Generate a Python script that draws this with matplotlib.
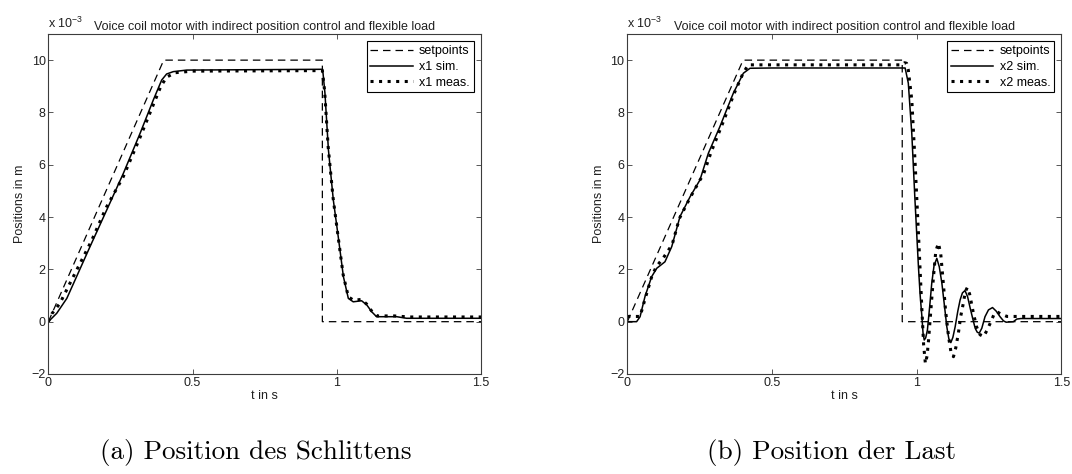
# Voice coil motor: setpoint vs. simulated vs. measured positions
# (a) slide position x1, (b) load position x2

import matplotlib.pyplot as plt

# ------------------------------------------------------------------
# DATA (positions in 1e-3 m, time in s)
# ------------------------------------------------------------------

# setpoint trajectory (same for both panels)
sp_t = [0, 0.4, 0.95, 0.95, 1.5]
sp_v = [0, 10, 10, 0, 0]

# (a) slide x1
x1_sim_t = [0, 0.029, 0.064, 0.0925, 0.1445, 0.2024, 0.26, 0.318, 0.364, 0.393,
            0.41, 0.433, 0.48, 0.951, 0.959, 0.971, 0.988, 1.005, 1.023, 1.04,
            1.057, 1.086, 1.104, 1.121, 1.138, 1.208, 1.242, 1.5]
x1_sim_v = [0, 0.32, 0.89, 1.59, 2.87, 4.27, 5.67, 7.2, 8.48, 9.24,
            9.47, 9.56, 9.62, 9.65, 8.73, 6.57, 4.65, 3.25, 1.72, 0.89,
            0.76, 0.80, 0.64, 0.38, 0.19, 0.19, 0.13, 0.13]

x1_meas_t = [0, 0.012, 0.04, 0.075, 0.11, 0.15, 0.2, 0.26, 0.318, 0.364, 0.39,
             0.41, 0.44, 0.5, 0.95, 0.958, 0.97, 0.987, 1.004, 1.022, 1.04,
             1.058, 1.085, 1.103, 1.12, 1.14, 1.2, 1.25, 1.5]
x1_meas_v = [0, 0.3, 0.7, 1.47, 2.23, 3.1, 4.35, 5.55, 7.05, 8.3, 9.0,
             9.35, 9.52, 9.58, 9.6, 8.8, 6.7, 4.75, 3.3, 1.8, 0.95,
             0.82, 0.85, 0.68, 0.42, 0.22, 0.22, 0.18, 0.18]

# (b) load x2
x2_sim_t = [0, 0.032, 0.044, 0.061, 0.084, 0.1015, 0.13, 0.1535, 0.182, 0.217,
            0.251, 0.28, 0.32, 0.366, 0.401, 0.424, 0.5, 0.96, 0.971, 0.983,
            0.994, 1.006, 1.012, 1.018, 1.022, 1.026, 1.031, 1.037, 1.045, 1.052,
            1.06, 1.0695, 1.078, 1.087, 1.096, 1.104, 1.111, 1.118, 1.125, 1.133,
            1.142, 1.15, 1.158, 1.167, 1.176, 1.185, 1.194, 1.202, 1.209, 1.216,
            1.225, 1.236, 1.248, 1.262, 1.275, 1.288, 1.3, 1.309, 1.334, 1.346,
            1.36, 1.5]
x2_sim_v = [0, 0, 0.19, 0.96, 1.72, 2.04, 2.29, 2.87, 4.02, 4.78,
            5.42, 6.44, 7.46, 8.73, 9.5, 9.69, 9.7, 9.7, 9.12, 7.2,
            4.65, 2.1, 1.0, 0.19, -0.45, -0.70, -0.62, -0.32, 0.6, 1.47,
            2.15, 2.42, 2.1, 1.47, 0.6, -0.19, -0.65, -0.80, -0.6, -0.19,
            0.4, 0.83, 1.1, 1.19, 0.95, 0.51, 0.1, -0.25, -0.4, -0.44,
            -0.25, 0.19, 0.45, 0.54, 0.4, 0.19, 0.03, -0.02, 0.0, 0.1,
            0.12, 0.12]

x2_meas_t = [0, 0.044, 0.062, 0.085, 0.1, 0.125, 0.155, 0.18, 0.215, 0.25,
             0.262, 0.29, 0.33, 0.37, 0.4, 0.418, 0.44, 0.5, 0.95, 0.958,
             0.965, 0.971, 0.983, 0.994, 1.006, 1.018, 1.024, 1.03, 1.036, 1.041,
             1.05, 1.058, 1.066, 1.075, 1.083, 1.092, 1.1, 1.11, 1.119, 1.127,
             1.135, 1.144, 1.152, 1.161, 1.168, 1.175, 1.183, 1.196, 1.207, 1.219,
             1.231, 1.242, 1.254, 1.266, 1.277, 1.29, 1.312, 1.5]
x2_meas_v = [0.2, 0.2, 0.9, 1.75, 2.1, 2.45, 2.95, 3.95, 4.7, 5.4,
             5.6, 6.5, 7.6, 8.75, 9.5, 9.82, 9.82, 9.82, 9.82, 9.9,
             9.88, 9.62, 8.48, 6.18, 3.38, 0.45, -0.9, -1.6, -1.3, -0.7,
             0.6, 1.72, 2.7, 3.0, 2.6, 1.47, 0.4, -0.57, -1.2, -1.34,
             -1.0, -0.44, 0.2, 0.7, 1.15, 1.31, 1.05, 0.32, -0.2, -0.5,
             -0.57, -0.35, -0.06, 0.25, 0.38, 0.3, 0.2, 0.2]

title = "Voice coil motor with indirect position control and flexible load"
captions = ["(a) Position des Schlittens", "(b) Position der Last"]

# ------------------------------------------------------------------
# PLOTTING
# ------------------------------------------------------------------

plt.rcParams["font.family"] = "Liberation Sans"
plt.rcParams["font.size"] = 9
plt.rcParams["mathtext.fontset"] = "custom"
plt.rcParams["mathtext.rm"] = "Liberation Sans"
plt.rcParams["mathtext.it"] = "Liberation Sans"
plt.rcParams["axes.unicode_minus"] = True

frame_col = "#3c3c3c"
text_col = "#202020"

fig = plt.figure(figsize=(10.72, 4.74), dpi=100)


def draw_panel(ax, sim_t, sim_v, meas_t, meas_v, name):
    ax.plot(sp_t, sp_v, c="k", lw=0.9, dashes=(6, 4), label="setpoints")
    ax.plot(sim_t, sim_v, c="k", lw=1.1, label=name + " sim.")
    ax.plot(meas_t, meas_v, c="k", lw=2.2, ls=(0, (1, 1.8)), label=name + " meas.")

    ax.set_xlim(0, 1.5)
    ax.set_ylim(-2, 11)
    ax.set_xticks([0, 0.5, 1, 1.5])
    ax.set_xticklabels(["0", "0.5", "1", "1.5"])
    ax.set_yticks([-2, 0, 2, 4, 6, 8, 10])
    ax.tick_params(direction="in", length=3.5, width=0.6, top=True, right=True,
                   colors=frame_col, labelcolor=text_col, labelsize=9, pad=2)
    for s in ax.spines.values():
        s.set_color(frame_col)
        s.set_linewidth(0.8)

    ax.set_xlabel("t in s", color=text_col, labelpad=1)
    ax.set_ylabel("Positions in m", color=text_col, labelpad=4)
    ax.set_title(title, fontsize=9, color=text_col, pad=3)
    ax.text(0, 1.008, r"x 10$^{-3}$", transform=ax.transAxes, ha="left",
            va="bottom", fontsize=9, color=text_col)

    leg = ax.legend(loc="upper right", fontsize=9, handlelength=3.4,
                    labelspacing=0.3, borderaxespad=0.6, fancybox=False,
                    framealpha=1, borderpad=0.3, handletextpad=0.5)
    leg.get_frame().set_edgecolor("k")
    leg.get_frame().set_linewidth(0.8)


ax1 = fig.add_axes([0.0451, 0.211, 0.4036, 0.7173])
draw_panel(ax1, x1_sim_t, x1_sim_v, x1_meas_t, x1_meas_v, "x1")

ax2 = fig.add_axes([0.5852, 0.211, 0.4049, 0.7173])
draw_panel(ax2, x2_sim_t, x2_sim_v, x2_meas_t, x2_meas_v, "x2")

# subfigure captions (LaTeX style)
fig.text(0.239, 0.046, captions[0], family="cmr10", fontsize=19.5,
         ha="center", va="center")
fig.text(0.776, 0.046, captions[1], family="cmr10", fontsize=19.5,
         ha="center", va="center")

fig.savefig("out.png", dpi=100)
